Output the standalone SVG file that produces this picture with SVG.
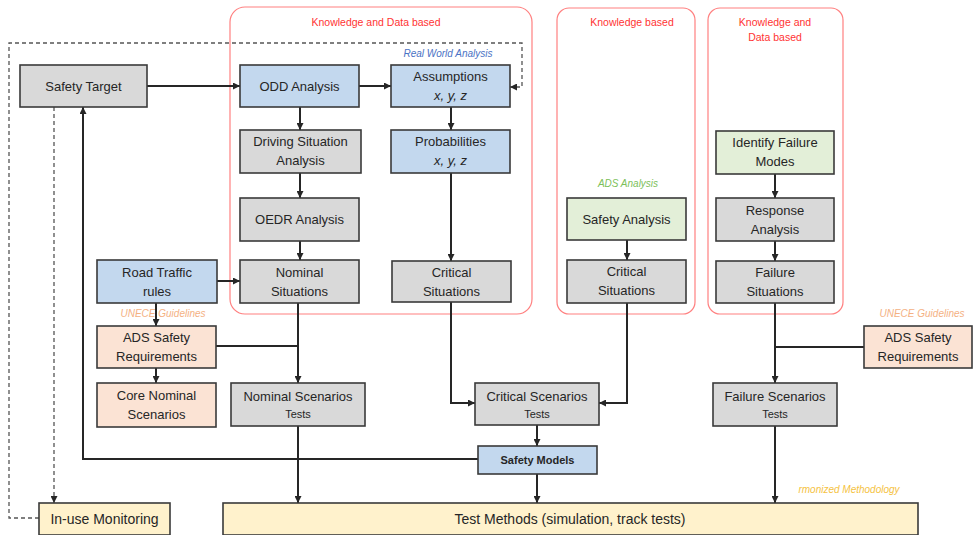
<svg xmlns="http://www.w3.org/2000/svg" width="974" height="535" viewBox="0 0 974 535">
<defs>
<marker id="ah" viewBox="0 0 10 10" refX="10" refY="5" markerWidth="7" markerHeight="7" markerUnits="userSpaceOnUse" orient="auto"><path d="M0,0 L10,5 L0,10 z" fill="#262626"/></marker>
<style>
.box{stroke:#3a3a3a;stroke-width:1.6}
.gray{fill:#d9d9d9}.blue{fill:#c3d8ee}.green{fill:#e3efd8}.peach{fill:#fbe3d4}.yellow{fill:#fff2cc}
.panel{fill:none;stroke:#ff8080;stroke-width:1.2}
.t{font-family:"Liberation Sans",Arial,sans-serif;font-size:13px;fill:#262626;text-anchor:middle}
.s{font-size:11px}
.b{font-size:11px;font-weight:bold}
.l{font-size:14px}
.i{font-style:italic}
.red{font-family:"Liberation Sans",Arial,sans-serif;font-size:10.5px;fill:#ff3333;text-anchor:middle}
.lab{font-family:"Liberation Sans",Arial,sans-serif;font-size:10px;font-style:italic;text-anchor:middle}
.c{fill:none;stroke:#262626;stroke-width:2}
.d{fill:none;stroke:#555;stroke-width:1.3;stroke-dasharray:4 3}
</style>
</defs>
<rect width="974" height="535" fill="#ffffff"/>

<g id="panels">
<rect class="panel" x="230" y="7" width="302" height="307" rx="15"/>
<text class="red" x="376" y="26">Knowledge and Data based</text>
<rect class="panel" x="557" y="8" width="138" height="306" rx="12"/>
<text class="red" x="632" y="26">Knowledge based</text>
<rect class="panel" x="708" y="8" width="135" height="306" rx="12"/>
<text class="red" x="775" y="26">Knowledge and</text>
<text class="red" x="775" y="41">Data based</text>
</g>

<g id="labels">
<text class="lab" x="448" y="57" fill="#4a72c4">Real World Analysis</text>
<text class="lab" x="628" y="187" fill="#7cc05a">ADS Analysis</text>
<text class="lab" x="163" y="317" fill="#f4b183">UNECE Guidelines</text>
<text class="lab" x="922" y="317" fill="#f4b183">UNECE Guidelines</text>
<text class="lab" x="849" y="493" fill="#f5c242">rmonized Methodology</text>
</g>

<g id="connectors">
<path class="c" d="M147,86 H240" marker-end="url(#ah)"/>
<path class="c" d="M359,86 H391" marker-end="url(#ah)"/>
<path class="c" d="M300,107 V130" marker-end="url(#ah)"/>
<path class="c" d="M300,173 V198" marker-end="url(#ah)"/>
<path class="c" d="M300,241 V260" marker-end="url(#ah)"/>
<path class="c" d="M451,107 V130" marker-end="url(#ah)"/>
<path class="c" d="M451,173 V261" marker-end="url(#ah)"/>
<path class="c" d="M627,240 V260" marker-end="url(#ah)"/>
<path class="c" d="M775,174 V198" marker-end="url(#ah)"/>
<path class="c" d="M775,241 V261" marker-end="url(#ah)"/>
<path class="c" d="M217,281 H240" marker-end="url(#ah)"/>
<path class="c" d="M156,303 V326" marker-end="url(#ah)"/>
<path class="c" d="M156,368 V383" marker-end="url(#ah)"/>
<path class="c" d="M216,346 H298"/>
<path class="c" d="M298,303 V383" marker-end="url(#ah)"/>
<path class="c" d="M451,302 V403 H475" marker-end="url(#ah)"/>
<path class="c" d="M627,303 V403 H599" marker-end="url(#ah)"/>
<path class="c" d="M864,347 H775"/>
<path class="c" d="M775,303 V383" marker-end="url(#ah)"/>
<path class="c" d="M537,425 V446" marker-end="url(#ah)"/>
<path class="c" d="M478,459 H83 V107" marker-end="url(#ah)"/>
<path class="c" d="M537,474 V503" marker-end="url(#ah)"/>
<path class="c" d="M298,426 V503" marker-end="url(#ah)"/>
<path class="c" d="M775,426 V503" marker-end="url(#ah)"/>
<path class="d" d="M39,518 H9 V43 H522 V87 H510" marker-end="url(#ah)"/>
<path class="d" d="M54,107 V503" marker-end="url(#ah)"/>
</g>

<g id="safety-target"><rect class="box gray" x="20" y="65" width="127" height="42"/><text class="t" x="83.5" y="91">Safety Target</text></g>
<g id="odd-analysis"><rect class="box blue" x="240" y="65" width="119" height="42"/><text class="t" x="299.5" y="91">ODD Analysis</text></g>
<g id="assumptions"><rect class="box blue" x="391" y="65" width="119" height="42"/><text class="t" x="450.5" y="81">Assumptions</text><text class="t i" x="450.5" y="100">x, y, z</text></g>
<g id="driving-situation"><rect class="box gray" x="240" y="130" width="121" height="43"/><text class="t" x="300.5" y="146">Driving Situation</text><text class="t" x="300.5" y="165">Analysis</text></g>
<g id="probabilities"><rect class="box blue" x="391" y="130" width="119" height="43"/><text class="t" x="450.5" y="146">Probabilities</text><text class="t i" x="450.5" y="165">x, y, z</text></g>
<g id="oedr-analysis"><rect class="box gray" x="240" y="198" width="119" height="43"/><text class="t" x="299.5" y="224">OEDR Analysis</text></g>
<g id="nominal-situations"><rect class="box gray" x="240" y="260" width="119" height="43"/><text class="t" x="299.5" y="277">Nominal</text><text class="t" x="299.5" y="296">Situations</text></g>
<g id="critical-situations-1"><rect class="box gray" x="392" y="261" width="119" height="41"/><text class="t" x="451.5" y="277">Critical</text><text class="t" x="451.5" y="296">Situations</text></g>
<g id="safety-analysis"><rect class="box green" x="567" y="198" width="119" height="42"/><text class="t" x="626.5" y="224">Safety Analysis</text></g>
<g id="critical-situations-2"><rect class="box gray" x="567" y="260" width="119" height="43"/><text class="t" x="626.5" y="276">Critical</text><text class="t" x="626.5" y="295">Situations</text></g>
<g id="identify-failure-modes"><rect class="box green" x="716" y="131" width="118" height="43"/><text class="t" x="775" y="147">Identify Failure</text><text class="t" x="775" y="166">Modes</text></g>
<g id="response-analysis"><rect class="box gray" x="716" y="198" width="118" height="43"/><text class="t" x="775" y="215">Response</text><text class="t" x="775" y="234">Analysis</text></g>
<g id="failure-situations"><rect class="box gray" x="716" y="261" width="118" height="42"/><text class="t" x="775" y="277">Failure</text><text class="t" x="775" y="296">Situations</text></g>
<g id="road-traffic-rules"><rect class="box blue" x="97" y="260" width="120" height="43"/><text class="t" x="157" y="277">Road Traffic</text><text class="t" x="157" y="296">rules</text></g>
<g id="ads-safety-req-left"><rect class="box peach" x="97" y="326" width="119" height="42"/><text class="t" x="156.5" y="342">ADS Safety</text><text class="t" x="156.5" y="361">Requirements</text></g>
<g id="core-nominal-scenarios"><rect class="box peach" x="97" y="383" width="119" height="44"/><text class="t" x="156.5" y="400">Core Nominal</text><text class="t" x="156.5" y="419">Scenarios</text></g>
<g id="ads-safety-req-right"><rect class="box peach" x="864" y="326" width="108" height="42"/><text class="t" x="918" y="342">ADS Safety</text><text class="t" x="918" y="361">Requirements</text></g>
<g id="nominal-scenarios"><rect class="box gray" x="231" y="383" width="134" height="43"/><text class="t" x="298" y="401">Nominal Scenarios</text><text class="t s" x="298" y="418">Tests</text></g>
<g id="critical-scenarios"><rect class="box gray" x="475" y="383" width="124" height="42"/><text class="t" x="537" y="401">Critical Scenarios</text><text class="t s" x="537" y="418">Tests</text></g>
<g id="failure-scenarios"><rect class="box gray" x="713" y="383" width="124" height="43"/><text class="t" x="775" y="401">Failure Scenarios</text><text class="t s" x="775" y="418">Tests</text></g>
<g id="safety-models"><rect class="box blue" x="478" y="446" width="119" height="28"/><text class="t b" x="537.5" y="464">Safety Models</text></g>
<g id="in-use-monitoring"><rect class="box yellow" x="39" y="503" width="131" height="32"/><text class="t l" x="104.5" y="524">In-use Monitoring</text></g>
<g id="test-methods"><rect class="box yellow" x="223" y="503" width="695" height="32"/><text class="t l" x="570" y="524">Test Methods (simulation, track tests)</text></g>
</svg>
